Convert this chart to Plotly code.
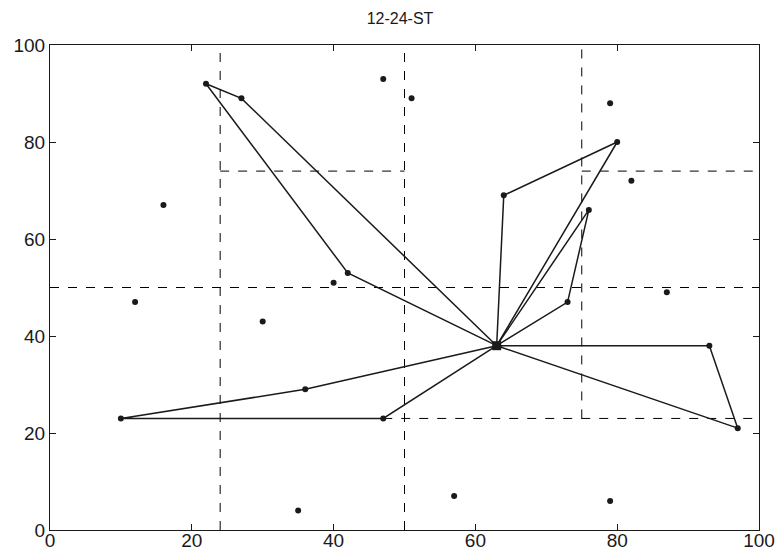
import plotly.graph_objects as go

# Depot
depot_x = [63]
depot_y = [38]

# Routes (each starts and ends at depot)
route_1_x = [63, 42, 22, 27, 63]
route_1_y = [38, 53, 92, 89, 38]
route_2_x = [63, 64, 80, 63]
route_2_y = [38, 69, 80, 38]
route_3_x = [63, 73, 76, 63]
route_3_y = [38, 47, 66, 38]
route_4_x = [63, 93, 97, 63]
route_4_y = [38, 38, 21, 38]
route_5_x = [63, 36, 10, 47, 63]
route_5_y = [38, 29, 23, 23, 38]

# Customers not selected
other_x = [47, 51, 79, 82, 16, 12, 40, 30, 87, 35, 57, 79]
other_y = [93, 89, 88, 72, 67, 47, 51, 43, 49, 4, 7, 6]

# Partition (dashed) segments: x0, y0, x1, y1
seg_x0 = [24, 50, 75, 0, 24, 75, 47]
seg_y0 = [0, 0, 23, 50, 74, 74, 23]
seg_x1 = [24, 50, 75, 100, 50, 100, 100]
seg_y1 = [100, 100, 100, 50, 74, 74, 23]

fig = go.Figure()

for x0, y0, x1, y1 in zip(seg_x0, seg_y0, seg_x1, seg_y1):
    fig.add_shape(type="line", x0=x0, y0=y0, x1=x1, y1=y1, xref="x", yref="y",
                  line=dict(color="black", width=1, dash="dash"), layer="below")

routes = [(route_1_x, route_1_y), (route_2_x, route_2_y), (route_3_x, route_3_y),
          (route_4_x, route_4_y), (route_5_x, route_5_y)]
for rx, ry in routes:
    fig.add_trace(go.Scatter(x=rx, y=ry, mode="lines+markers",
                             line=dict(color="#1a1a1a", width=1.5),
                             marker=dict(color="#1a1a1a", size=6),
                             showlegend=False, hoverinfo="skip", cliponaxis=False))

fig.add_trace(go.Scatter(x=other_x, y=other_y, mode="markers",
                         marker=dict(color="#1a1a1a", size=6),
                         showlegend=False))
fig.add_trace(go.Scatter(x=depot_x, y=depot_y, mode="markers",
                         marker=dict(color="#1a1a1a", size=9, symbol="square"),
                         showlegend=False))

axis_common = dict(range=[0, 100], tickvals=[0, 20, 40, 60, 80, 100],
                   showline=True, linecolor="#1a1a1a", linewidth=1.2, mirror="ticks",
                   ticks="inside", ticklen=6, tickcolor="#1a1a1a",
                   showgrid=False, zeroline=False, automargin=False,
                   tickfont=dict(size=19, color="#1a1a1a"))

fig.update_layout(
    width=784, height=553,
    margin=dict(l=42, r=33, t=37, b=31, autoexpand=False),
    paper_bgcolor="white", plot_bgcolor="white",
    font=dict(family="Liberation Sans, Arial, sans-serif", color="#1a1a1a"),
    title=dict(text="12-24-ST", x=0.5, xref="container", xanchor="center",
               y=0.982, yref="container", yanchor="middle", automargin=False,
               font=dict(size=16, color="#1a1a1a")),
    xaxis=dict(**axis_common, ticklabelstandoff=-7),
    yaxis=dict(**axis_common),
)

fig.write_html("out.html")
